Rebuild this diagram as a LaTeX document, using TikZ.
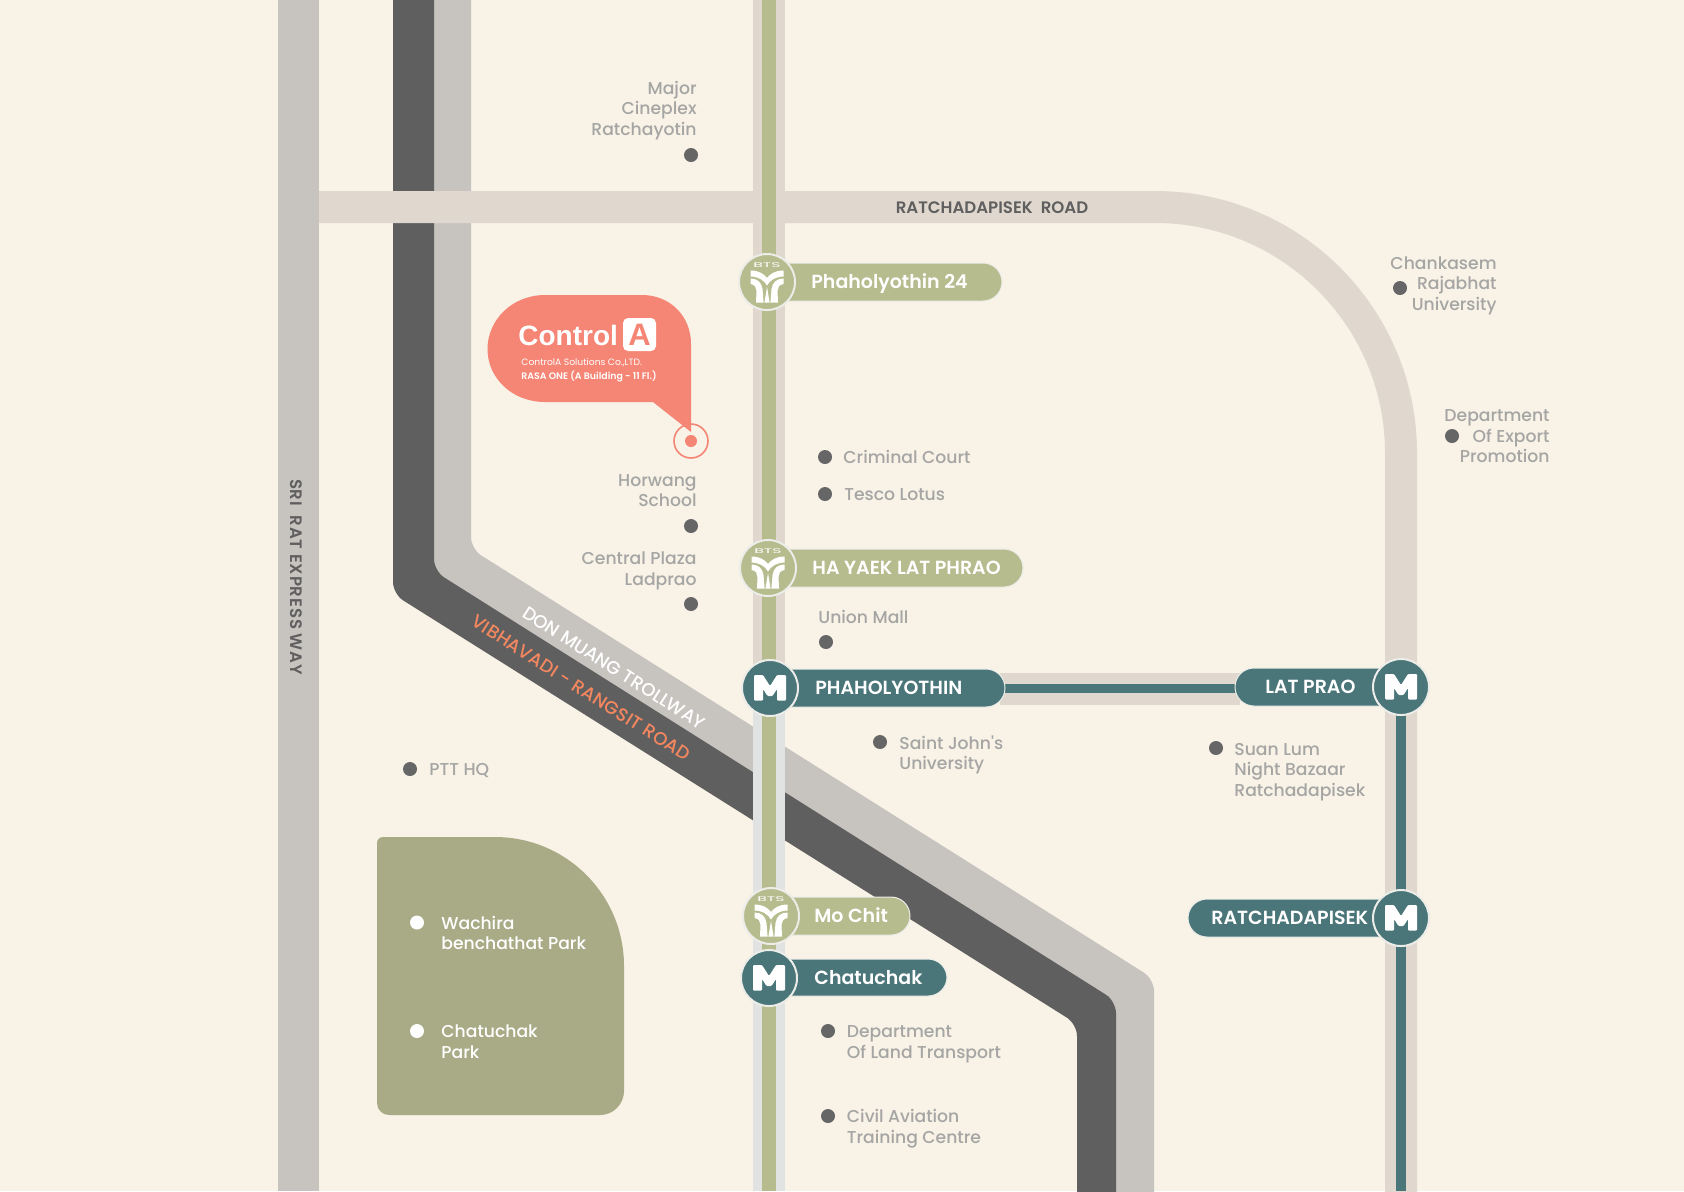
\documentclass[tikz,border=0pt]{standalone}
\usepackage{fontspec}
\setmainfont{Poppins}
\newfontfamily\pmed{Poppins Medium}
\newfontfamily\psemi{Poppins SemiBold}
\newfontfamily\psemisp[LetterSpace=5]{Poppins SemiBold}
\newfontfamily\pmedsp[LetterSpace=1]{Poppins Medium}
\newfontfamily\logof{Liberation Sans}
\definecolor{bg}{HTML}{F8F2E7}
\definecolor{road}{HTML}{C7C3BF}
\definecolor{dark}{HTML}{5F5F5F}
\definecolor{band}{HTML}{E0D8CE}
\definecolor{corr}{HTML}{E1E3E2}
\definecolor{bts}{HTML}{B6BC8E}
\definecolor{mrt}{HTML}{4A7579}
\definecolor{park}{HTML}{A8AB85}
\definecolor{coral}{HTML}{F58574}
\definecolor{vibc}{HTML}{F4875F}
\definecolor{lab}{HTML}{A5A5A3}
\definecolor{dot}{HTML}{666666}
\definecolor{edge}{HTML}{ECEDE8}
\tikzset{
  x=0.5pt,y=-0.5pt,
  lbl/.style={inner sep=0pt,text=lab,font=\fontsize{8.6pt}{10.25pt}\selectfont\pmed,anchor=west,align=left},
  lblr/.style={lbl,anchor=east,align=right},
  pt/.style={circle,fill=dot,inner sep=0pt,minimum size=7pt},
  wpt/.style={pt,fill=white},
  stn/.style={inner sep=0pt,text=white,font=\fontsize{9.5pt}{11pt}\selectfont\psemi,anchor=west},
  btsc/.style={circle,fill=bts,draw=edge,line width=1pt,inner sep=0pt,minimum size=28pt},
  mrtc/.style={circle,fill=mrt,draw=edge,line width=1pt,inner sep=0pt,minimum size=28pt},
  pillb/.style={fill=bts,draw=edge,line width=0.5pt,rounded corners=9.5pt},
  pillm/.style={fill=mrt,draw=edge,line width=0.5pt,rounded corners=9.5pt},
}
\newcommand{\btslogo}[2]{%
  \begin{scope}[shift={(#1,#2)}]
    \node[inner sep=0pt,text=white,xscale=2.3,font=\fontsize{3.4pt}{4pt}\selectfont] at (0,-16.5) {BTS};
    \fill[white] (-16.5,-11.5) .. controls (-8,-11.5) and (-3,-8) .. (0,-4) .. controls (3,-8) and (8,-11.5) .. (16.5,-11.5)
      -- (16.5,-5.5) .. controls (9,-5.5) and (3,-2) .. (0,3.5) .. controls (-3,-2) and (-9,-5.5) .. (-16.5,-5.5) -- cycle;
    \fill[white] (-16.5,-3.5) .. controls (-10,-3.5) and (-5.5,0) .. (-4.5,7) -- (-3.4,20.5) -- (-11,20.5) -- (-10.5,9) .. controls (-10.5,6) and (-12,2.5) .. (-16.5,2) -- cycle;
    \fill[white] (16.5,-3.5) .. controls (10,-3.5) and (5.5,0) .. (4.5,7) -- (3.4,20.5) -- (11,20.5) -- (10.5,9) .. controls (10.5,6) and (12,2.5) .. (16.5,2) -- cycle;
    \fill[white] (0,5) -- (2.6,20.5) -- (-2.6,20.5) -- cycle;
  \end{scope}}
\newcommand{\mlogo}[2]{%
  \fill[white,shift={(#1,#2)},rounded corners=0.5pt] (-16,-13) -- (-7,-13) -- (0,-2) -- (7,-13) -- (16,-13) -- (16,12.5) -- (7,12.5) -- (7,1) -- (2.5,8) -- (-2.5,8) -- (-7,1) -- (-7,12.5) -- (-16,12.5) -- cycle;}
\begin{document}
\begin{tikzpicture}
\useasboundingbox (0,0) rectangle (1684,1191);
\fill[bg] (0,0) rectangle (1684,1191);
% roads
\fill[road] (278,0) rectangle (319,1191);
\fill[road,rounded corners=6pt] (434,-20) -- (471,-20) -- (471,549) -- (1154,979) -- (1154,1220) -- (1116,1220) -- (1116,1001) -- (433,571) -- cycle;
\fill[dark,rounded corners=6pt] (393,-20) -- (434,-20) -- (434,571) -- (1116,1001) -- (1116,1220) -- (1077,1220) -- (1077,1024) -- (393,594) -- cycle;
% ring road
\draw[band,line width=16pt] (319,207) -- (1155,207) arc[start angle=-90,end angle=0,radius=246] -- (1401,1200);
\fill[band] (1000,673) rectangle (1240,705);
% BTS corridor
\fill[band] (753,0) rectangle (785,700);
\fill[corr] (753,700) rectangle (785,1191);
\fill[bts] (762,0) rectangle (776,1191);
% MRT lines
\fill[mrt] (1000,684) rectangle (1240,693);
\fill[mrt] (1396,687) rectangle (1406,1191);
% park
\fill[park] (383,837) -- (495,837) arc[start angle=-90,end angle=0,radius=129] -- (624,1091) arc[start angle=0,end angle=90,radius=24] -- (389,1115) arc[start angle=90,end angle=180,radius=12] -- (377,843) arc[start angle=180,end angle=270,radius=6] -- cycle;
% road labels
\node[inner sep=0pt,text=dark,rotate=-90,font=\fontsize{8.3pt}{9pt}\selectfont\psemisp] (srirat) at (296,577) {SRI\ \ RAT EXPRESS WAY};
\node[inner sep=0pt,text=dark,font=\fontsize{8.3pt}{9pt}\selectfont\psemi] (ratroad) at (992,208) {RATCHADAPISEK\ \ ROAD};
\node[inner sep=0pt,text=white,rotate=-32.5,font=\fontsize{9.1pt}{9pt}\selectfont\pmed] (donm) at (614,668) {DON MUANG TROLLWAY};
\node[inner sep=0pt,text=vibc,rotate=-32.5,font=\fontsize{9.1pt}{9pt}\selectfont\pmedsp] (vib) at (581,688) {VIBHAVADI - RANGSIT ROAD};
% bubble
\fill[coral] (545,295) -- (642,295) .. controls (670,295) and (691,316) .. (691,344) -- (691,432) -- (653,402) -- (545,402) .. controls (512,402) and (487.5,378) .. (487.5,349) .. controls (487.5,320) and (512,295) .. (545,295) -- cycle;
\node[inner sep=0pt,text=white,anchor=west,font=\fontsize{14pt}{16pt}\selectfont\logof\bfseries] (ctrl) at (518,335) {Control};
\node[fill=white,rounded corners=2.5pt,minimum width=16.5pt,minimum height=16.5pt,inner sep=0pt,text=coral,font=\fontsize{15.5pt}{15.5pt}\selectfont\logof\bfseries] (logoa) at (639.5,334.5) {A};
\node[inner sep=0pt,text=white,anchor=west,font=\fontsize{4.6pt}{5pt}\selectfont] (co) at (521,363) {ControlA Solutions Co.,LTD.};
\node[inner sep=0pt,text=white,anchor=west,font=\fontsize{4.7pt}{5pt}\selectfont\psemi] (rasa) at (521,376) {RASA ONE (A Building - 11 Fl.)};
\node[circle,draw=coral,line width=0.8pt,minimum size=17pt,inner sep=0pt] (ring) at (691,441) {};
\node[circle,fill=coral,minimum size=6pt,inner sep=0pt] (ringdot) at (691,441) {};
% pills
\fill[pillb] (770,263) rectangle (1002,301);
\fill[pillb] (770,549) rectangle (1023,587);
\fill[pillm] (770,669) rectangle (1005,707);
\fill[pillm] (1235,668) rectangle (1400,706);
\fill[pillm] (1188,899) rectangle (1400,937);
\fill[pillb] (770,897) rectangle (910,935);
\fill[pillm] (770,959) rectangle (947,996);
% stations
\node[btsc] (s1) at (767,282) {}; \btslogo{767}{282}
\node[btsc] (s2) at (768,568) {}; \btslogo{768}{568}
\node[mrtc] (s3) at (770,688) {}; \mlogo{770}{688}
\node[mrtc] (s4) at (1401,687) {}; \mlogo{1401}{687}
\node[mrtc] (s5) at (1401,918) {}; \mlogo{1401}{918}
\node[btsc] (s6) at (771,916) {}; \btslogo{771}{916}
\node[mrtc] (s7) at (769,978) {}; \mlogo{769}{978}
\node[stn] (t1) at (811,284) {Phaholyothin 24};
\node[stn] (t2) at (812,568) {HA YAEK LAT PHRAO};
\node[stn] (t3) at (815,688) {PHAHOLYOTHIN};
\node[stn] (t4) at (1265,687) {LAT PRAO};
\node[stn] (t5) at (1211,918) {RATCHADAPISEK};
\node[stn] (t6) at (814,915.5) {Mo Chit};
\node[stn] (t7) at (814,977.5) {Chatuchak};
% places
\node[pt] (d1) at (691,155) {}; \node[lblr] (l1) at (697,110.5) {Major\\Cineplex\\Ratchayotin};
\node[pt] (d2) at (825,457) {}; \node[lbl] (l2) at (843,457) {Criminal Court};
\node[pt] (d3) at (825,494) {}; \node[lbl] (l3) at (844,495) {Tesco Lotus};
\node[pt] (d4) at (691,526) {}; \node[lblr] (l4) at (697,490.5) {Horwang\\School};
\node[pt] (d5) at (691,604) {}; \node[lblr] (l5) at (697,571) {Central Plaza\\Ladprao};
\node[pt] (d6) at (826,642) {}; \node[lbl] (l6) at (818,617) {Union Mall};
\node[pt] (d7) at (880,742) {}; \node[lbl] (l7) at (899,755) {Saint John's\\University};
\node[pt] (d8) at (1216,748) {}; \node[lbl] (l8) at (1234,772) {Suan Lum\\Night Bazaar\\Ratchadapisek};
\node[pt] (d9) at (410,769) {}; \node[lbl] (l9) at (429,771) {PTT HQ};
\node[wpt] (d10) at (417,922.5) {}; \node[lbl,text=white] (l10) at (441,933) {Wachira\\benchathat Park};
\node[wpt] (d11) at (417,1031) {}; \node[lbl,text=white] (l11) at (441,1041.5) {Chatuchak\\Park};
\node[pt] (d12) at (828,1031) {}; \node[lbl] (l12) at (846.5,1044) {Department\\Of Land Transport};
\node[pt] (d13) at (828,1116) {}; \node[lbl] (l13) at (846.5,1128.5) {Civil Aviation\\Training Centre};
\node[pt] (d14) at (1400,288) {}; \node[lblr] (l14) at (1497,285.5) {Chankasem\\Rajabhat\\University};
\node[pt] (d15) at (1452,436) {}; \node[lblr] (l15) at (1550,436.5) {Department\\Of Export\\Promotion};
\end{tikzpicture}
\end{document}
